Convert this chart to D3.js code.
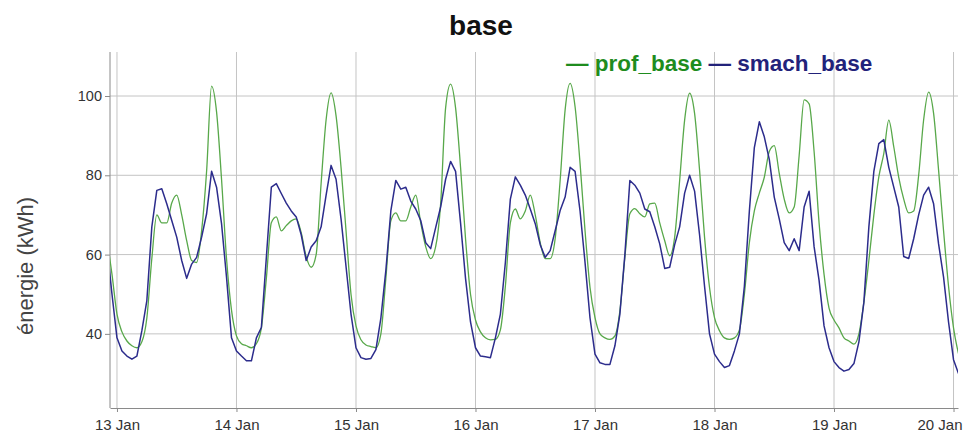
<!DOCTYPE html>
<html>
<head>
<meta charset="utf-8">
<script src="https://cdn.jsdelivr.net/npm/d3@7"></script>
<style>
  body { margin: 0; background: #fff; }
  svg { display: block; font-family: "Liberation Sans", Arial, sans-serif; }
  .grid line { stroke: #c4c4c4; }
  .axis path, .axis line { stroke: #8a8a8a; }
</style>
</head>
<body>
<svg id="chart" width="963" height="432"></svg>
<script>
// hourly readings, first one at 12 Jan 22:00
let startTime = new Date(2015, 0, 12, 22);
let seriesNames = ["prof_base", "smach_base"];
let seriesColors = ["#58a84a", "#2c2c8c"];
let legendColors = ["#1e8c1e", "#22227a"];
let yTicks = [40, 60, 80, 100];

let profBase = [
  64, 55, 45, 40.5, 38.2, 37, 36.5, 38, 44, 59, 70, 68, 68, 73, 75, 70, 63.5, 58.5, 58, 66, 81, 102.5, 96, 79,
  59, 46, 39.5, 37.5, 37, 36.5, 37.5, 41.5, 54, 68, 69.5, 66, 67.3, 68.5, 69, 65.5, 59.5, 56.8, 60, 78, 94, 100.8, 95, 82,
  66, 50, 42, 38.5, 37.2, 36.8, 36.5, 40, 54, 68.5, 70.5, 68.5, 68.5, 72, 75, 68, 62, 59, 62, 72.8, 97, 103, 97, 82,
  64, 50, 43.5, 40.5, 39, 38.5, 38.6, 41, 52, 68, 71.5, 69, 71, 75, 70, 63, 59, 59, 64, 78.7, 96.5, 103.2, 97.3, 83,
  66, 51.7, 44.1, 40, 39, 38.6, 39.5, 45.8, 59.3, 70.3, 71.6, 70.3, 69.5, 72.8, 73, 68, 63.5, 59.7, 64.4, 78.7, 93.9, 100.7, 95.6, 81.3,
  64.4, 51.7, 44.1, 40.8, 39, 38.6, 39, 41, 50, 63, 71, 75.5, 79.5, 86, 87.5, 80.5, 74, 70.5, 72, 85, 99, 98, 86, 68,
  55, 46.5, 43.5, 41.5, 39, 38.2, 37.4, 40, 48, 58.5, 70, 79.6, 85.5, 93.9, 87.2, 79.5, 74, 70.5, 71, 80, 94, 101, 95.6, 81.3,
  66, 52, 41.5, 35
];

let smachBase = [
  62, 50, 39, 35.7, 34.4, 33.6, 34.4, 40.8, 48.4, 67, 76.2, 76.6, 72.8, 68.6, 64.4, 58.5, 54, 57.6, 59.3, 64.4, 70.3, 81, 77, 67.8,
  54.3, 39, 35.7, 34.4, 33.2, 33.2, 39, 41.6, 59.3, 77, 77.9, 75.4, 73, 71, 69.5, 65, 58.5, 61.9, 63.5, 67, 75, 82.5, 79, 69,
  57, 45, 36.5, 34, 33.6, 33.8, 36, 44, 56, 71, 78.7, 76.5, 77, 73.5, 71.5, 68.6, 63, 61.5, 66.8, 72, 79, 83.5, 81, 68,
  54, 43, 36.5, 34.4, 34.2, 34, 39, 45, 58, 74, 79.6, 77.5, 75, 71.5, 67.8, 62.5, 59.3, 61, 66, 71.1, 74.5, 82, 81, 71,
  58, 44, 34.9, 32.7, 32.3, 32.3, 37, 45, 60, 78.7, 77.5, 75.5, 71.5, 70.8, 67, 62.7, 56.5, 56.8, 62.5, 67, 75.5, 80, 76, 65,
  52, 40, 34.9, 33, 31.5, 32, 35.7, 40, 52, 71, 87, 93.5, 89.7, 84, 74.5, 69, 63, 61, 64, 61, 72, 76, 62, 53.5,
  42, 36.5, 33, 31.5, 30.6, 31, 32.5, 38, 48, 67, 81, 88, 89, 82, 77, 72, 59.5, 59, 64, 70, 75, 77, 72.8, 62.7,
  54.3, 43, 33.5, 30
];

let margin = {top: 52, right: 5, bottom: 24, left: 110};
let svgWidth = 963;
let svgHeight = 432;
let width = svgWidth - margin.left - margin.right;
let height = svgHeight - margin.top - margin.bottom;

let svg = d3.select("#chart");
let g = svg.append("g")
  .attr("transform", "translate(" + margin.left + "," + margin.top + ")");

let times = profBase.map((d, i) => d3.timeHour.offset(startTime, i));

let x = d3.scaleTime()
  .domain([new Date(2015, 0, 12, 22, 36), new Date(2015, 0, 20, 0, 54)])
  .range([0, width]);
let y = d3.scaleLinear()
  .domain([21.3, 111.1])
  .range([height, 0]);

let dayTicks = d3.timeDay.range(new Date(2015, 0, 13), new Date(2015, 0, 20, 12));

// grid
g.append("g").attr("class", "grid")
  .selectAll("line").data(yTicks).enter().append("line")
  .attr("x1", 0).attr("x2", width)
  .attr("y1", d => y(d)).attr("y2", d => y(d));
g.append("g").attr("class", "grid")
  .selectAll("line").data(dayTicks).enter().append("line")
  .attr("x1", d => x(d)).attr("x2", d => x(d))
  .attr("y1", 0).attr("y2", height);

g.append("g")
  .attr("class", "axis")
  .attr("transform", "translate(0," + height + ")")
  .attr("font-size", 15)
  .attr("font-family", null)
  .call(d3.axisBottom(x).tickValues(dayTicks).tickSize(4).tickSizeOuter(0)
    .tickFormat(d3.timeFormat("%-d Jan")))
  .attr("font-size", 15)
  .attr("font-family", null)
  .call(a => a.selectAll("text").attr("dy", "1em").attr("fill", "#333"))
  // last label pushed left so it stays inside the picture
  .call(a => a.selectAll(".tick:last-of-type text")
    .attr("text-anchor", "end").attr("x", svgWidth - 1 - margin.left - x(dayTicks[dayTicks.length - 1])));

g.append("g")
  .attr("class", "axis")
  .call(d3.axisLeft(y).tickValues(yTicks).tickSize(5).tickSizeOuter(0))
  .attr("font-size", 14.5)
  .attr("font-family", null)
  .call(a => a.selectAll("text").attr("fill", "#333"))
  .call(a => a.select(".domain").attr("d", "M0,0V" + height));

g.append("clipPath").attr("id", "clip")
  .append("rect").attr("width", width).attr("height", height);

let series = [profBase, smachBase];
let curves = [d3.curveMonotoneX, d3.curveLinear];
let widths = [1.3, 1.5];

series.forEach((vals, k) => {
  let line = d3.line()
    .x((d, i) => x(times[i]))
    .y(d => y(d))
    .curve(curves[k]);
  g.append("path")
    .datum(vals)
    .attr("clip-path", "url(#clip)")
    .attr("fill", "none")
    .attr("stroke", seriesColors[k])
    .attr("stroke-width", widths[k])
    .attr("stroke-linejoin", "round")
    .attr("d", line);
});

// title
svg.append("text")
  .attr("x", 481).attr("y", 35)
  .attr("text-anchor", "middle")
  .attr("font-size", "28px").attr("font-weight", "bold")
  .attr("fill", "#111")
  .text("base");

// legend
let legend = svg.append("text")
  .attr("x", 566).attr("y", 71)
  .attr("font-size", "22.5px").attr("font-weight", "bold");
seriesNames.forEach((name, k) => {
  legend.append("tspan")
    .attr("fill", legendColors[k])
    .text((k ? " " : "") + "\u2014 " + name);
});

svg.append("text")
  .attr("transform", "translate(33,266) rotate(-90)")
  .attr("text-anchor", "middle")
  .attr("font-size", "22px")
  .attr("fill", "#444")
  .text("énergie (kWh)");
</script>
</body>
</html>
